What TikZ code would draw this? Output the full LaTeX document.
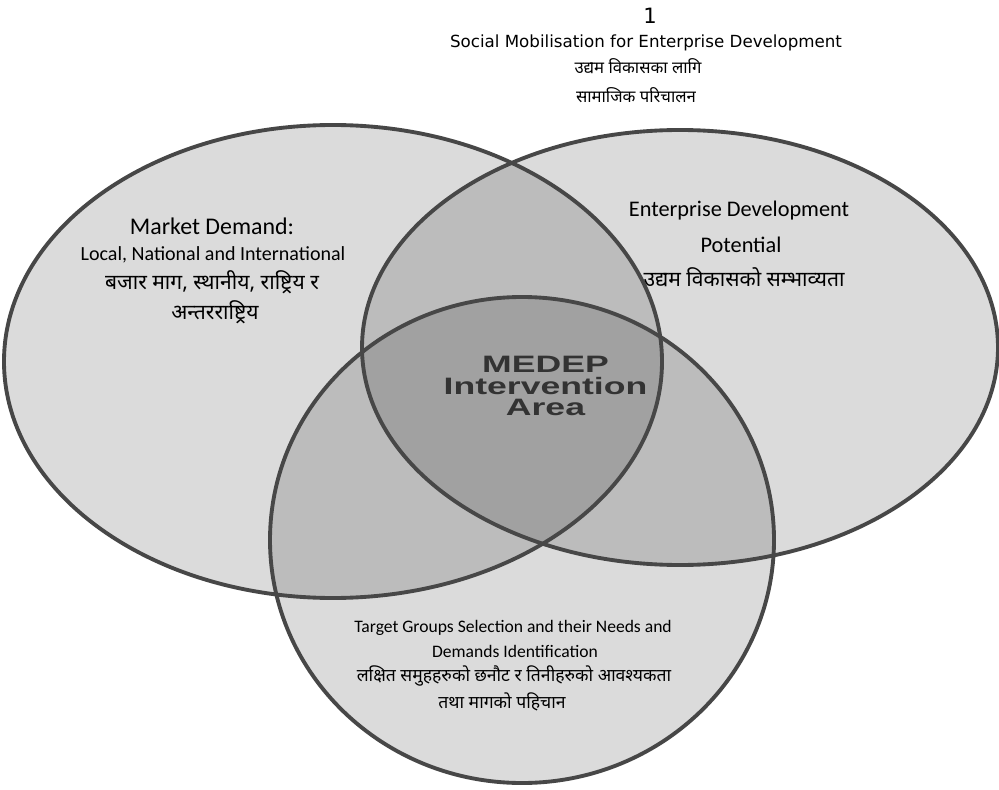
\documentclass[tikz,border=0pt]{standalone}
\usepackage{fontspec}
\setmainfont{Carlito}
\newfontfamily\devfont[Script=Devanagari]{Noto Sans}
\newfontfamily\headfont{DejaVu Sans}
\newfontfamily\artfont{Liberation Sans}

\begin{document}
\begin{tikzpicture}[
    ring/.style={draw=black!72, line width=2.2pt},
    field/.style={fill=black, fill opacity=0.14},
    lbl/.style={inner sep=0pt, font=\fontsize{11.4}{13}\selectfont},
    dev/.style={inner sep=0pt, font=\devfont\fontsize{12}{14}\selectfont},
    head/.style={inner sep=0pt, font=\headfont\fontsize{9.5}{11}\selectfont},
    art/.style={inner sep=0pt, align=center, text=black!80, font=\artfont\bfseries\fontsize{13.5}{12.2}\selectfont, xscale=1.5, transform shape}
  ]
    \pgfmathsetmacro\pagew{19.98};
    \pgfmathsetmacro\pageh{15.78};

    \fill[white] (0,0) rectangle (\pagew,\pageh);
    \useasboundingbox (0,0) rectangle (\pagew,\pageh);

    % market, enterprise, target groups
    \foreach \cx/\cy/\rx/\ry in {6.66/8.55/6.58/4.73, 13.6/8.83/6.36/4.35, 10.44/4.98/5.04/4.86}
        \fill[field] (\cx,\cy) ellipse ({\rx} and {\ry});
    \foreach \cx/\cy/\rx/\ry in {6.66/8.55/6.58/4.73, 13.6/8.83/6.36/4.35, 10.44/4.98/5.04/4.86}
        \draw[ring] (\cx,\cy) ellipse ({\rx} and {\ry});

    \node[head, font=\headfont\fontsize{12}{14}\selectfont] (pageno) at (13.0, 15.46) {1};
    \node[head] (smed) at (12.92, 14.92) {Social Mobilisation for Enterprise Development};
    \node[dev, font=\devfont\fontsize{9.5}{11}\selectfont] (smeda) at (12.76, 14.46) {उद्यम विकासका लागि};
    \node[dev, font=\devfont\fontsize{9.5}{11}\selectfont] (smedb) at (12.72, 13.88) {सामाजिक परिचालन};

    \node[lbl, font=\fontsize{13.6}{15}\selectfont] (market) at (4.24, 11.26) {Market Demand:};
    \node[lbl] (marketa) at (4.26, 10.68) {Local, National and International};
    \node[dev] (marketb) at (4.24, 10.14) {बजार माग, स्थानीय, राष्ट्रिय र};
    \node[dev] (marketc) at (4.3, 9.54) {अन्तरराष्ट्रिय};

    \node[lbl, font=\fontsize{12.7}{14}\selectfont] (potential) at (14.78, 11.56) {Enterprise Development};
    \node[lbl, font=\fontsize{12.7}{14}\selectfont] (potentiala) at (14.82, 10.88) {Potential};
    \node[dev] (potentialb) at (14.88, 10.24) {उद्यम विकासको सम्भाव्यता};

    \node[art] (medep) at (10.91, 8.06) {MEDEP\\Intervention\\Area};

    \node[lbl, font=\fontsize{10}{12}\selectfont] (target) at (10.26, 3.22) {Target Groups Selection and their Needs and};
    \node[lbl, font=\fontsize{10}{12}\selectfont] (targeta) at (10.3, 2.76) {Demands Identification};
    \node[dev, font=\devfont\fontsize{10}{12}\selectfont] (targetb) at (10.28, 2.26) {लक्षित समुहहरुको छनौट र तिनीहरुको आवश्यकता};
    \node[dev, font=\devfont\fontsize{10}{12}\selectfont] (targetc) at (10.04, 1.74) {तथा मागको पहिचान};
\end{tikzpicture}
\end{document}
